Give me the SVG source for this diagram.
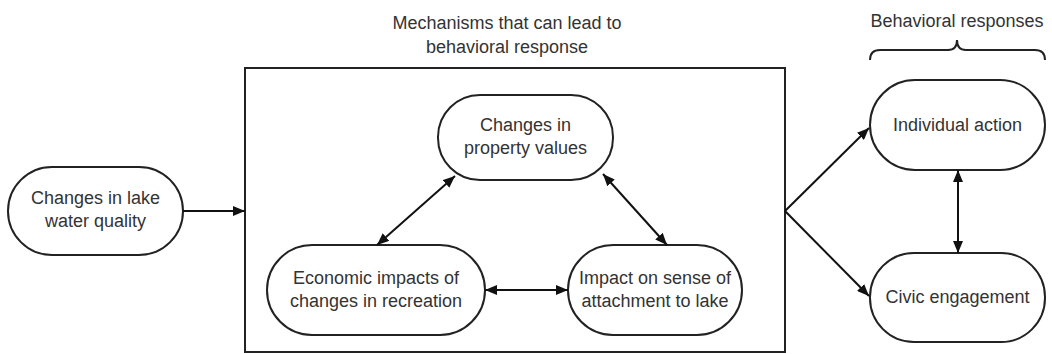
<svg xmlns="http://www.w3.org/2000/svg" width="1052" height="354" viewBox="0 0 1052 354">
<defs>
<marker id="ah" viewBox="0 0 12 10" refX="12" refY="5" markerWidth="12" markerHeight="10" markerUnits="userSpaceOnUse" orient="auto-start-reverse">
<path d="M0,0 L12,5 L0,10 Z" fill="#111"/>
</marker>
<style>
.node{fill:#fff;stroke:#222;stroke-width:2}
.t{font-family:"Liberation Sans",Arial,sans-serif;font-size:18px;fill:#333;text-anchor:middle}
.c{fill:none;stroke:#111;stroke-width:2}
</style>
</defs>
<rect x="0" y="0" width="1052" height="354" fill="#fff"/>
<g id="title-mechanisms">
<text class="t" x="507" y="29">Mechanisms that can lead to</text>
<text class="t" x="507" y="53">behavioral response</text>
</g>
<g id="mechanisms-box">
<rect x="245" y="68" width="540" height="284" fill="none" stroke="#222" stroke-width="2"/>
</g>
<g id="title-responses">
<text class="t" x="957" y="27">Behavioral responses</text>
<path d="M870,60 Q870,50 880,50 L948,50 Q957,50 957,40 Q957,50 966,50 L1035,50 Q1045,50 1045,60" fill="none" stroke="#222" stroke-width="2"/>
</g>
<g id="n-water">
<rect class="node" x="8" y="167" width="175" height="88" rx="44"/>
<text class="t" x="95.5" y="204">Changes in lake</text>
<text class="t" x="95.5" y="227">water quality</text>
</g>
<g id="n-property">
<rect class="node" x="438" y="95" width="175" height="85" rx="42"/>
<text class="t" x="525.5" y="131">Changes in</text>
<text class="t" x="525.5" y="154">property values</text>
</g>
<g id="n-recreation">
<rect class="node" x="267" y="245" width="218" height="90" rx="45"/>
<text class="t" x="376" y="284">Economic impacts of</text>
<text class="t" x="376" y="307">changes in recreation</text>
</g>
<g id="n-attachment">
<rect class="node" x="568" y="245" width="174" height="90" rx="45"/>
<text class="t" x="655" y="284">Impact on sense of</text>
<text class="t" x="655" y="307">attachment to lake</text>
</g>
<g id="n-individual">
<rect class="node" x="870" y="80" width="175" height="90" rx="45"/>
<text class="t" x="957.5" y="131">Individual action</text>
</g>
<g id="n-civic">
<rect class="node" x="870" y="253" width="175" height="89" rx="44"/>
<text class="t" x="957.5" y="303">Civic engagement</text>
</g>
<g id="connectors">
<path class="c" d="M183,211 L245,211" marker-end="url(#ah)"/>
<path class="c" d="M377,245 L455,176" marker-start="url(#ah)" marker-end="url(#ah)"/>
<path class="c" d="M603,174 L667,245" marker-start="url(#ah)" marker-end="url(#ah)"/>
<path class="c" d="M485,290 L568,290" marker-start="url(#ah)" marker-end="url(#ah)"/>
<path class="c" d="M785,211 L869,128" marker-end="url(#ah)"/>
<path class="c" d="M785,211 L869,296" marker-end="url(#ah)"/>
<path class="c" d="M958,170 L958,253" marker-start="url(#ah)" marker-end="url(#ah)"/>
</g>
</svg>
